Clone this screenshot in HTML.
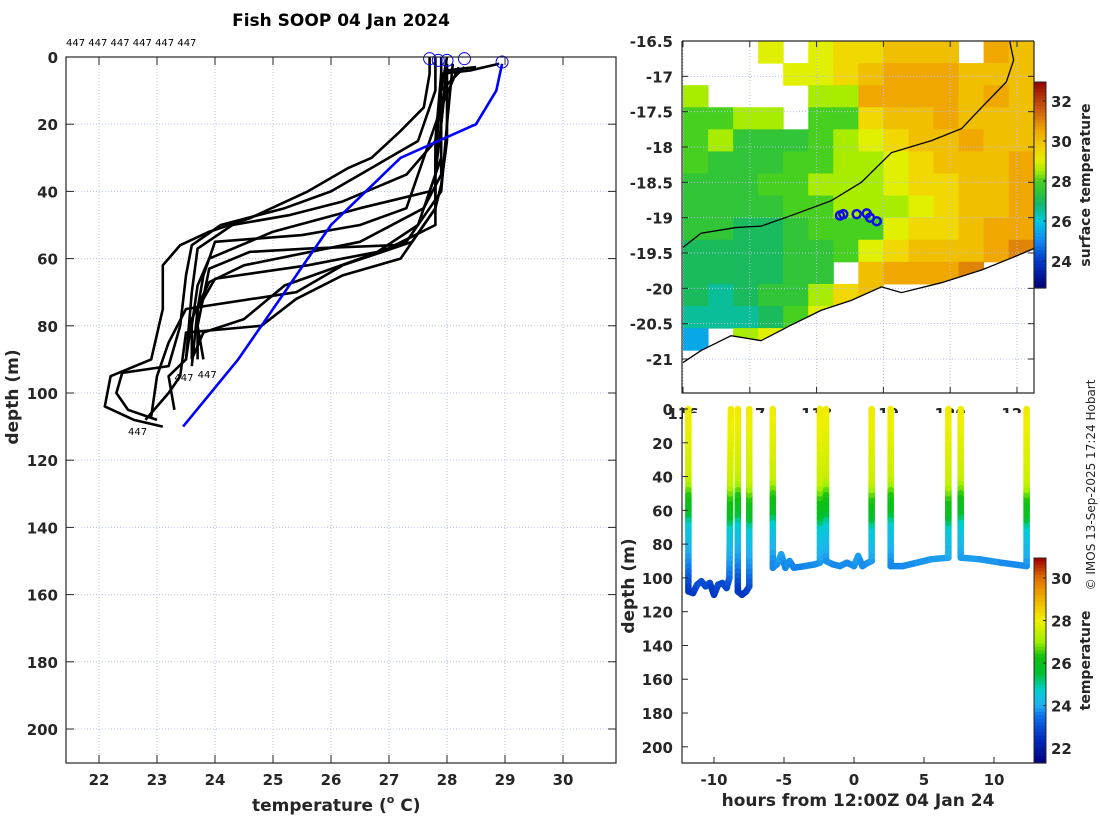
<!DOCTYPE html>
<html><head><meta charset="utf-8">
<style>
html,body{margin:0;padding:0;background:#fff;}
svg{display:block;font-family:"DejaVu Sans","Liberation Sans",sans-serif;}
</style></head>
<body>
<svg id="chart" width="1100" height="820" viewBox="0 0 1100 820" xmlns="http://www.w3.org/2000/svg">
<rect width="1100" height="820" fill="#fff"/>
</svg>
<script>
// ---------- DATA ----------
const xTicksLeft = [22,23,24,25,26,27,28,29,30];
const yTicksLeft = [0,20,40,60,80,100,120,140,160,180,200];
const profileTemps = [
 [27.7,27.7,27.6,27.2,26.7,26.3,25.6,24.6,23.9,23.4,23.1,23.1,22.9,22.2,22.1,22.6,23.1],
 [27.8,27.8,27.5,27.0,26.0,25.2,24.1,23.6,23.5,23.4,23.2,22.4,22.3,22.5,23.0],
 [27.9,27.9,27.8,27.3,26.2,25.3,24.3,23.7,23.6,23.5,23.2,23.3],
 [28.0,27.9,27.9,27.7,26.5,25.0,23.9,23.7,23.6,23.6],
 [28.0,27.9,27.9,27.6,26.5,24.5,23.9,23.6,23.5],
 [28.1,28.0,27.9,27.3,26.5,25.2,24.5,23.8,23.6],
 [28.0,28.0,27.9,27.8,27.4,26.2,25.4,23.5,23.2,23.0,22.9],
 [28.2,27.9,27.6,27.3,26.5,25.5,24.0,23.8,23.7,23.7],
 [28.3,27.9,27.8,27.8,27.2,26.2,25.4,24.8,23.5,23.4,23.2,22.8],
 [28.5,28.0,27.9,27.8,27.5,26.8,25.6,24.0,23.7,23.6],
 [28.9,28.4,27.9,27.8,27.8,27.1,25.6,24.6,23.9,23.7,23.8]
];
const profileDepths = [
 [0,5,15,22,30,33,40,48,52,56,62,75,90,95,104,108,110],
 [0,10,25,30,40,45,50,56,65,80,92,94,100,105,108],
 [0,10,25,35,43,47,50,57,70,90,95,105],
 [0,10,30,40,45,52,60,68,80,90],
 [2,20,35,45,55,62,67,78,90],
 [2,20,40,55,60,68,78,82,90],
 [2,25,38,45,55,62,70,75,85,95,107],
 [3,15,30,45,50,53,55,65,75,90],
 [3,10,30,45,60,65,72,80,82,95,100,108],
 [3,4,20,35,50,58,62,66,75,92],
 [2,4,5,25,50,56,57,58,63,80,90]
];
const climTemps = [28.95,28.85,28.5,27.2,26.0,25.2,24.4,23.45];
const climDepths = [2,10,20,30,50,70,90,110];
const startTemps = [27.7,27.85,28.0,28.3,28.95];
const startDepths = [0.5,1,1,0.5,1.5];
const idLabels = ["447","447","447"];
const idLabelTemps = [23.3,23.7,22.5];
const idLabelDepths = [95,94,111];

// map
const mapLatTicks = [-16.5,-17,-17.5,-18,-18.5,-19,-19.5,-20,-20.5,-21];
const mapLonTicks = [116,117,118,119,120,121];
const sstLon0 = 116, sstLonStep = 0.375, sstLat0 = -16.5, sstLatStep = 0.3125;
const N = null;
const sstGrid = [
 [N,N,N,29,N,29,29.5,29.5,30,30,30,N,30.5,30],
 [N,N,N,N,29,29,29.5,30,30.5,30.5,30.5,30,30,30],
 [28.5,N,N,N,N,28.5,28.5,30.5,30.5,30.5,30.5,30,30.5,30],
 [28,28,28.5,28.5,N,28,28,29.5,30,30,30.5,30,30,30],
 [28,28.5,27.5,27.5,27.5,28,28.5,29,29.5,30,30,30.5,30,30],
 [28,27.5,27.5,27.5,28,28,28.5,28.5,29,29.5,30,30,30,30.5],
 [27.5,27.5,27.5,28,28,28.5,28.5,28.5,29,29.5,29.5,30,30,30.5],
 [27.5,27.5,27.5,27.5,28,28,28.5,28.5,28.5,29,29.5,30,30,30.5],
 [27.5,27.5,27,27,27.5,28,28,28,29,29.5,29.5,30,30.5,30.5],
 [27,27,27,27,27.5,27.5,28,29,29.5,30,30,30,30.5,31],
 [27,27,27,27,27.5,27.5,N,30,30.5,30.5,30.5,31,N,N],
 [27,26.5,27,27.5,27.5,28.5,29.5,30,N,N,N,N,N,N],
 [26.5,26.5,26.5,27,28,29,29.5,N,N,N,N,N,N,N],
 [25.5,N,28.5,29,N,N,N,N,N,N,N,N,N,N],
 [N,N,N,N,N,N,N,N,N,N,N,N,N,N]
];
const coastLon = [116,116.27,116.72,117.17,117.62,118.07,118.52,118.97,119.27,119.87,120.47,120.92,121.27];
const coastLat = [-21.05,-20.88,-20.67,-20.74,-20.52,-20.31,-20.17,-19.98,-20.06,-19.92,-19.74,-19.57,-19.43];
const shelfLon = [116,116.27,116.79,117.17,117.62,118.22,118.67,119.12,119.72,120.17,120.47,120.84,120.95,120.89];
const shelfLat = [-19.42,-19.22,-19.14,-19.12,-18.97,-18.76,-18.5,-18.08,-17.91,-17.74,-17.44,-17.08,-16.77,-16.5];
const shipLon = [118.35,118.4,118.6,118.75,118.8,118.9];
const shipLat = [-18.97,-18.95,-18.95,-18.94,-19.0,-19.05];
const sstCbTicks = [24,26,28,30,32];

// depth-time section
const hourTicks = [-10,-5,0,5,10];
const depthTicksR = [0,20,40,60,80,100,120,140,160,180,200];
const castHours = [
 [-11.83,-11.83,-11.5,-11.2,-10.9,-10.6,-10.3,-10.0,-9.7,-9.4,-9.1,-8.9,-8.79],
 [-8.3,-8.3,-8.0,-7.7,-7.48,-7.48],
 [-5.8,-5.8,-5.5,-5.2,-4.9,-4.6,-4.3,-3.5,-2.8,-2.43,-2.43],
 [-2.0,-2.0,-1.5,-1.0,-0.5,0,0.3,0.6,1.0,1.26,1.26],
 [2.62,2.62,3.5,4.5,5.5,6.74,6.74],
 [7.62,7.62,9,10.5,12.33,12.33]
];
const castDepths = [
 [0,108,109,104,102,105,103,110,104,103,106,100,0],
 [0,108,110,108,105,0],
 [0,94,92,86,94,90,94,93,92,91,0],
 [0,90,92,93,91,93,87,93,91,90,0],
 [0,93,93,91,89,88,0],
 [0,88,89,91,93,0]
];
const meanProfileDepth = [0,42,52,62,70,85,95,108];
const meanProfileTemp = [28.1,27.5,26.4,25.8,24.6,24.0,23.6,22.6];
const tempCbTicks = [22,24,26,28,30];

// ---------- HELPERS ----------
const svg = document.getElementById('chart');
const NS = 'http://www.w3.org/2000/svg';
function mk(tag, attrs, parent){ const e=document.createElementNS(NS,tag); for(const k in attrs) e.setAttribute(k,attrs[k]); (parent||svg).appendChild(e); return e; }
function txt(s, attrs, parent){ const e=mk('text',attrs,parent); e.textContent=s; return e; }
function lerpColor(stops, v){
  if(v<=stops[0][0]) return stops[0][1];
  for(let i=1;i<stops.length;i++){ if(v<=stops[i][0]){ const a=stops[i-1],b=stops[i]; const t=(v-a[0])/(b[0]-a[0]);
    const ca=hex(a[1]),cb=hex(b[1]); return 'rgb('+ca.map((c,j)=>Math.round(c+(cb[j]-c)*t)).join(',')+')'; } }
  return stops[stops.length-1][1];
}
function hex(h){ return [1,3,5].map(i=>parseInt(h.substr(i,2),16)); }
function interp(xs, ys, x){ if(x<=xs[0]) return ys[0]; for(let i=1;i<xs.length;i++) if(x<=xs[i]) return ys[i-1]+(ys[i]-ys[i-1])*(x-xs[i-1])/(xs[i]-xs[i-1]); return ys[ys.length-1]; }
const sstStops = [[22.7,'#00007a'],[24,'#0038c8'],[25,'#1088f0'],[26,'#00c8e0'],[26.8,'#10b870'],[27.3,'#28c040'],[28,'#48d020'],[28.5,'#a8ec00'],[29,'#e0f000'],[29.5,'#f0d800'],[30.5,'#f0a800'],[31.5,'#d06010'],[33,'#900000']];
const tStops = [[21.3,'#000080'],[22.5,'#0030c0'],[23.5,'#1070e8'],[24,'#20b0f0'],[24.7,'#00d0d0'],[25.5,'#00c030'],[26.3,'#10c010'],[27,'#a0f000'],[28,'#f0f000'],[29,'#f0b000'],[30,'#e07000'],[30.9,'#a00000']];
const tickFont = {'font-size':'15','font-weight':'bold','fill':'#262626'};

// ---------- LEFT PANEL ----------
const L = {x0:66,x1:616,y0:57,y1:763};
const lx = t => 99 + (t-22)*58;
const ly = d => 57 + d*3.36;
const gL = mk('g',{});  
xTicksLeft.forEach(t=>{ const g=mk('line',{x1:lx(t),x2:lx(t),y1:L.y0,y2:L.y1,stroke:'#b8c0e8','stroke-width':1,'stroke-dasharray':'1,2'},gL);  
  mk('line',{x1:lx(t),x2:lx(t),y1:L.y1,y2:L.y1-8,stroke:'#262626'},gL); mk('line',{x1:lx(t),x2:lx(t),y1:L.y0,y2:L.y0+8,stroke:'#262626'},gL);
  const e=txt(String(t),Object.assign({x:lx(t),y:785,'text-anchor':'middle'},tickFont),gL);   });
yTicksLeft.forEach(d=>{ if(d>0){ const g=mk('line',{x1:L.x0,x2:L.x1,y1:ly(d),y2:ly(d),stroke:'#b8c0e8','stroke-width':1,'stroke-dasharray':'1,2'},gL);   }
  mk('line',{x1:L.x0,x2:L.x0+8,y1:ly(d),y2:ly(d),stroke:'#262626'},gL); mk('line',{x1:L.x1,x2:L.x1-8,y1:ly(d),y2:ly(d),stroke:'#262626'},gL);
  const e=txt(String(d),Object.assign({x:58,y:ly(d)+6,'text-anchor':'end'},tickFont),gL);   });
profileTemps.forEach((ts,i)=>{ const pts=ts.map((t,j)=>lx(t)+','+ly(profileDepths[i][j])).join(' ');
  const p=mk('polyline',{points:pts,fill:'none',stroke:'#000','stroke-width':2.6,'stroke-linejoin':'round'},gL);
    });
const cl=mk('polyline',{points:climTemps.map((t,j)=>lx(t)+','+ly(climDepths[j])).join(' '),fill:'none',stroke:'#0000ff','stroke-width':2.6},gL);
 
startTemps.forEach((t,j)=>{ const c=mk('circle',{cx:lx(t),cy:ly(startDepths[j]),r:6,fill:'none',stroke:'#0000ff','stroke-width':1},gL);   });
idLabels.forEach((s,j)=>{ const e=txt(s,{x:lx(idLabelTemps[j]),y:ly(idLabelDepths[j])+5,'font-size':'10',fill:'#000'},gL);   });
const fr=mk('rect',{x:L.x0,y:L.y0,width:L.x1-L.x0,height:L.y1-L.y0,fill:'none',stroke:'#262626','stroke-width':1.2},gL);  
let e;
e=txt('447 447 447 447 447 447',{x:66,y:46,'font-size':'10',fill:'#000'});  
e=txt('Fish SOOP 04 Jan 2024',{x:341,y:26,'text-anchor':'middle','font-size':'17','font-weight':'bold',fill:'#000'});  
e=mk('text',{x:252,y:811,'font-size':'17','font-weight':'bold',fill:'#262626'});
 
(function(){ const a=mk('tspan',{},e); a.textContent='temperature ('; const b=mk('tspan',{dy:'-8','font-size':'11'},e); b.textContent='o'; const c=mk('tspan',{dy:'8'},e); c.textContent=' C)'; })();
e=txt('depth (m)',{x:0,y:0,transform:'translate(18,397) rotate(-90)','text-anchor':'middle','font-size':'17','font-weight':'bold',fill:'#262626'});  

// ---------- MAP ----------
const M = {x0:682,x1:1034,y0:41,y1:393};
const mx = lon => 683 + (lon-116)*66.8;
const my = lat => 41 + (-16.5-lat)*70.67;
const gM = mk('g',{});  
mk('clipPath',{id:'mapclip'},gM); mk('rect',{x:M.x0,y:M.y0,width:M.x1-M.x0,height:M.y1-M.y0},document.getElementById('mapclip'));
const gH = mk('g',{'clip-path':'url(#mapclip)'},gM);
sstGrid.forEach((row,r)=>row.forEach((v,c)=>{ if(v===null) return;
  const lon=sstLon0+c*sstLonStep, lat=sstLat0-r*sstLatStep;
  const x=mx(lon), y=my(lat), w=mx(lon+sstLonStep)-x+0.5, h=my(lat-sstLatStep)-y+0.5;
  const cell=mk('rect',{x:x,y:y,width:w,height:h,fill:lerpColor(sstStops,v)},gH);
    }));
let landPts = coastLon.map((l,j)=>mx(l)+','+my(coastLat[j])).join(' ') + ' '+mx(121.3)+','+M.y1+' '+M.x0+','+M.y1;
const land=mk('polygon',{points:landPts,fill:'#fff'},gH);  
mapLonTicks.forEach(l=>{ mk('line',{x1:mx(l),x2:mx(l),y1:M.y0,y2:M.y1,stroke:'#b8c0e8','stroke-dasharray':'1,2'},gH); mk('line',{x1:mx(l),x2:mx(l),y1:M.y1,y2:M.y1-6,stroke:'#262626'},gM); mk('line',{x1:mx(l),x2:mx(l),y1:M.y0,y2:M.y0+6,stroke:'#262626'},gM); });
mapLatTicks.forEach(l=>{ mk('line',{x1:M.x0,x2:M.x1,y1:my(l),y2:my(l),stroke:'#b8c0e8','stroke-dasharray':'1,2'},gH); mk('line',{x1:M.x0,x2:M.x0+6,y1:my(l),y2:my(l),stroke:'#262626'},gM); mk('line',{x1:M.x1,x2:M.x1-6,y1:my(l),y2:my(l),stroke:'#262626'},gM);
  const t=txt(String(l),Object.assign({x:673,y:my(l)+6,'text-anchor':'end'},tickFont),gM);   });
e=mk('polyline',{points:coastLon.map((l,j)=>mx(l)+','+my(coastLat[j])).join(' '),fill:'none',stroke:'#000','stroke-width':1.3},gH);  
e=mk('polyline',{points:shelfLon.map((l,j)=>mx(l)+','+my(shelfLat[j])).join(' '),fill:'none',stroke:'#000','stroke-width':1.3},gH);  
shipLon.forEach((l,j)=>{ const c=mk('circle',{cx:mx(l),cy:my(shipLat[j]),r:4,fill:'none',stroke:'#1010e0','stroke-width':2.5},gH);   });
mk('polyline',{points:[M.x0,M.y0,M.x0,M.y1,M.x1,M.y1,M.x1,M.y0].join(' '),fill:'none',stroke:'#262626','stroke-width':1.2},gM);
mk('line',{x1:M.x0,x2:M.x1,y1:M.y0,y2:M.y0,stroke:'#262626','stroke-width':1.2},gM);
mapLonTicks.forEach(l=>{ const t=txt(String(l),Object.assign({x:mx(l),y:419,'text-anchor':'middle'},tickFont),gM);   });
function colorbar(x,y0,y1,vmin,vmax,stops,ticks,label,name){
  const g=mk('g',{});  
  const n=60; for(let i=0;i<n;i++){ const v=vmax-(i+0.5)*(vmax-vmin)/n; mk('rect',{x:x,y:y0+i*(y1-y0)/n,width:12,height:(y1-y0)/n+0.6,fill:lerpColor(stops,v)},g); }
  mk('rect',{x:x,y:y0,width:12,height:y1-y0,fill:'none',stroke:'#262626','stroke-width':1},g);
  ticks.forEach(t=>{ const yy=y0+(vmax-t)/(vmax-vmin)*(y1-y0); mk('line',{x1:x+12,x2:x+9,y1:yy,y2:yy,stroke:'#262626'},g);
    const tt=txt(String(t),Object.assign({x:x+17,y:yy+6,'font-size':'14'},tickFont),g);   });
  const lb=txt(label,{x:0,y:0,transform:'translate('+(x+56)+','+((y0+y1)/2)+') rotate(-90)','text-anchor':'middle','font-size':'14','font-weight':'bold',fill:'#262626'},g);
   
}
// ---------- DEPTH-TIME SECTION ----------
const R = {x0:682,x1:1034,y0:413,y1:763};
const rx = h => 714 + (h+10)*14;
const ry = d => 409 + d*1.689;
const gR = mk('g',{});  
mk('rect',{x:R.x0+1,y:R.y0,width:R.x1-R.x0+60,height:R.y1-R.y0,fill:'#fff'},gR);
castHours.forEach((hs,i)=>{ const gc=mk('g',{},gR);  
  for(let j=0;j<hs.length-1;j++){ const d0=castDepths[i][j], d1=castDepths[i][j+1], h0=hs[j], h1=hs[j+1];
    const steps=Math.max(1,Math.ceil(Math.abs(d1-d0)/3));
    for(let k=0;k<steps;k++){ const a=k/steps,b=(k+1)/steps; const dm=d0+(d1-d0)*(a+b)/2;
      mk('line',{x1:rx(h0+(h1-h0)*a),y1:ry(d0+(d1-d0)*a),x2:rx(h0+(h1-h0)*b),y2:ry(d0+(d1-d0)*b),stroke:lerpColor(tStops,interp(meanProfileDepth,meanProfileTemp,dm)),'stroke-width':6.5,'stroke-linecap':'round'},gc); } } });
hourTicks.forEach(h=>{ mk('line',{x1:rx(h),x2:rx(h),y1:R.y1,y2:R.y1-6,stroke:'#262626'},gR);
  const t=txt(String(h),Object.assign({x:rx(h),y:785,'text-anchor':'middle'},tickFont),gR);   });
depthTicksR.forEach(d=>{ mk('line',{x1:R.x0,x2:R.x0+6,y1:ry(d),y2:ry(d),stroke:'#262626'},gR);
  const t=txt(String(d),Object.assign({x:673,y:ry(d)+6,'text-anchor':'end'},tickFont),gR);   });
mk('polyline',{points:[R.x0,R.y0-6,R.x0,R.y1,R.x1,R.y1].join(' '),fill:'none',stroke:'#262626','stroke-width':1.2},gR);
e=txt('hours from 12:00Z 04 Jan 24',{x:858,y:806,'text-anchor':'middle','font-size':'17','font-weight':'bold',fill:'#262626'});  
e=txt('depth (m)',{x:0,y:0,transform:'translate(634,586) rotate(-90)','text-anchor':'middle','font-size':'17','font-weight':'bold',fill:'#262626'});  

colorbar(1034,82,288,22.65,32.95,sstStops,sstCbTicks,'surface temperature','sst-colorbar');
colorbar(1034,558,763,21.3,30.94,tStops,tempCbTicks,'temperature','temperature-colorbar');
e=txt('© IMOS 13-Sep-2025 17:24 Hobart',{x:0,y:0,transform:'translate(1095,485) rotate(-90)','text-anchor':'middle','font-size':'12',fill:'#262626'});  
</script>
</body></html>
